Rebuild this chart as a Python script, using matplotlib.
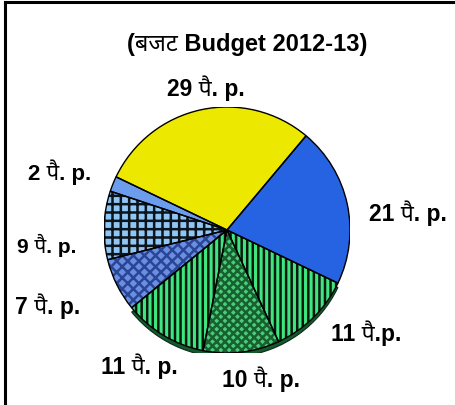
import matplotlib
matplotlib.use("Agg")
import matplotlib.pyplot as plt
from matplotlib.patches import Wedge
from matplotlib.lines import Line2D

# ---- data ----
title = "(बजट Budget 2012-13)"
values = [29, 21, 11, 10, 11, 7, 9, 2]
labels = ["29 पै. p.", "21 पै. p.", "11 पै.p.", "10 पै. p.",
          "11 पै. p.", "7 पै. p.", "9 पै. p.", "2 पै. p."]

# ---- styles ----
faces = ["#ECE800", "#2563E3", "#3FE581", "#4CCB7A", "#3FE581", "#6A8FE0", "#90C6F4", "#6C9CEC"]
hatches = [None, None, "|||", "xxxx", "|||", "xxx", "++", None]
hatch_cols = ["black", "black", "#061A0C", "#17602F", "#061A0C", "#2A4596", "#0C141C", "black"]
label_px = [(206, 88), (408, 213), (366, 333), (261, 379), (139, 366), (48, 306), (47, 245), (60, 172)]
label_fs = [16.5, 16.5, 16.5, 16.5, 16.5, 16.5, 15, 16]

plt.rcParams["hatch.linewidth"] = 1.8

W, H = 456, 406
fig = plt.figure(figsize=(W / 100, H / 100), dpi=100)
fam = ["Liberation Sans", "Noto Sans", "DejaVu Sans"]

# frame lines (top and left)
fig.add_artist(Line2D([5.5 / W, 1.0], [1 - 3 / H, 1 - 3 / H], transform=fig.transFigure, color="black", lw=2.2))
fig.add_artist(Line2D([5.5 / W, 5.5 / W], [0, 1 - 3 / H], transform=fig.transFigure, color="black", lw=2.2))

cx, cy, r = 227, 231, 123
ax = fig.add_axes([(cx - r) / W, 1 - (cy + r) / H, 2 * r / W, 2 * r / H])
ax.axis("off")

startangle = 50 + values[0] / sum(values) * 360
wedges, _ = ax.pie(values, startangle=startangle, counterclock=False, radius=1.0,
                   colors=faces, wedgeprops=dict(linewidth=0), frame=False)
ax.set_xlim(-1.0, 1.0)
ax.set_ylim(-1.0, 1.0)

# 3D-like dark rim under the green slices
rim_t1 = wedges[4].theta1
rim_t2 = wedges[2].theta2
rim = Wedge((0, -0.035), 1.0, rim_t1, rim_t2, facecolor="#145A2E", edgecolor="#0A2A15", lw=0.8, zorder=0)
ax.add_patch(rim)

for w, h, hc in zip(wedges, hatches, hatch_cols):
    w.set_zorder(1)
    if h:
        w.set_hatch(h)
        w.set_edgecolor(hc)
        w.set_linewidth(0)
    o = Wedge(w.center, w.r, w.theta1, w.theta2, facecolor="none", edgecolor="black", lw=1.0, zorder=3)
    ax.add_patch(o)

fig.text(247 / W, 1 - 45 / H, title, ha="center", va="center", fontsize=17,
         fontweight="bold", family=fam)
for lab, (x, y), fs in zip(labels, label_px, label_fs):
    fig.text(x / W, 1 - y / H, lab, ha="center", va="center", fontsize=fs,
             fontweight="bold", family=fam)

fig.savefig("out.png", dpi=100)
